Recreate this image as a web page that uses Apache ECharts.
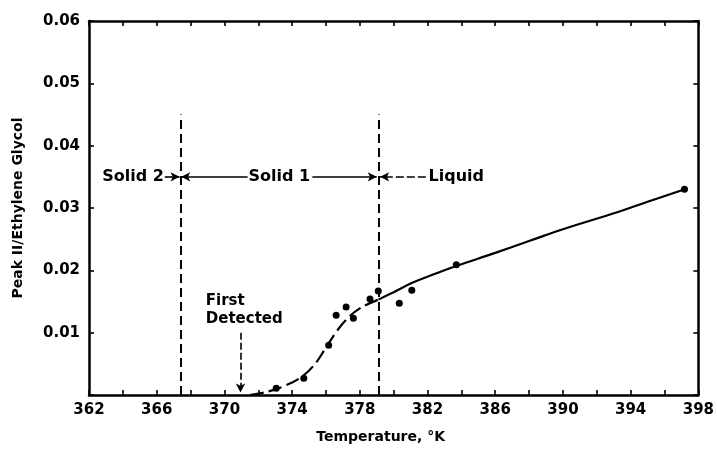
<!DOCTYPE html>
<html><head><meta charset="utf-8">
<script src="https://cdn.jsdelivr.net/npm/echarts@6/dist/echarts.min.js"></script>
<style>html,body{margin:0;padding:0;background:#fff}#c{width:717px;height:449px}</style>
</head><body><div id="c"></div>
<script>
// ---- data ----
const xTicks = [362, 366, 370, 374, 378, 382, 386, 390, 394, 398];
const yTicks = [0.01, 0.02, 0.03, 0.04, 0.05, 0.06];
const pointsX = [373.06, 374.69, 376.16, 376.6, 377.19, 377.62, 378.6, 379.09, 380.33, 381.07, 383.7, 397.18];
const pointsY = [0.0011, 0.0027, 0.0080, 0.0128, 0.0141, 0.0123, 0.0154, 0.0167, 0.0147, 0.0168, 0.0209, 0.0330];
const curveLowX = [371.5, 372.5, 373.5, 374.5, 375.3, 376.0, 376.6, 377.2, 378.0, 379.1];
const curveLowY = [0.0, 0.0005, 0.0014, 0.0028, 0.0048, 0.0076, 0.0101, 0.0121, 0.0139, 0.0153];
const curveHighX = [379.1, 380.0, 381.1, 382.5, 383.7, 386, 388, 390, 393.3, 395, 397.2];
const curveHighY = [0.0153, 0.0165, 0.0180, 0.0195, 0.0207, 0.0228, 0.0247, 0.0266, 0.0294, 0.0310, 0.0330];
const phaseBounds = [367.4, 379.1];
const phaseTop = 0.045;
const regionLabels = ['Solid 2', 'Solid 1', 'Liquid'];
const regionLabelX = [364.6, 373.25, 383.7];
const regionY = 0.035;
const arrowSegs = [[366.3, 367.35], [371.4, 367.45], [375.2, 379.0], [381.9, 379.2]];
const firstText = ['First', 'Detected'];
const firstTextX = 368.84;
const firstTextY = [0.0150, 0.0121];
const firstArrowX = 370.95;
const firstArrowY = [0.0100, 0.0004];
const xName = 'Temperature, °K';
const yName = 'Peak II/Ethylene Glycol';

const FONT = 'DejaVu Sans';
const chart = echarts.init(document.getElementById('c'));
const zip = (a, b) => a.map((v, i) => [v, b[i]]);

const markLines = [];
phaseBounds.forEach(x => markLines.push([
  {coord: [x, 0], symbol: 'none', lineStyle: {type: [9, 5], width: 2, color: '#000'}},
  {coord: [x, phaseTop], symbol: 'none'}
]));
arrowSegs.forEach((s, i) => markLines.push([
  {coord: [s[0], regionY], symbol: 'none', lineStyle: {type: i === 3 ? [8, 3] : 'solid', width: 1.6, color: '#000'}},
  {coord: [s[1], regionY], symbol: 'arrow', symbolSize: [7, 9]}
]));
markLines.push([
  {coord: [firstArrowX, firstArrowY[0]], symbol: 'none', lineStyle: {type: [7, 3], width: 1.6, color: '#000'}},
  {coord: [firstArrowX, firstArrowY[1]], symbol: 'arrow', symbolSize: [7, 9]}
]);

const textData = [];
regionLabels.forEach((t, i) => textData.push({value: [regionLabelX[i], regionY], name: t, label: {align: 'center', fontSize: 16}}));
firstText.forEach((t, i) => textData.push({value: [firstTextX, firstTextY[i]], name: t, label: {align: 'left', fontSize: 15}}));

const axisLine = {show: true, onZero: false, lineStyle: {color: '#000', width: 2.5}};
const axisTick = {show: true, inside: true, length: 5, lineStyle: {color: '#000', width: 1.6}};

chart.setOption({
  animation: false,
  backgroundColor: '#fff',
  grid: {left: 89, right: 17, top: 21, bottom: 54},
  xAxis: [{
    type: 'value', min: 362, max: 398, interval: 2,
    axisLine, axisTick, splitLine: {show: false},
    axisLabel: {
      color: '#000', fontFamily: FONT, fontWeight: 'bold', fontSize: 15, margin: 8,
      formatter: v => xTicks.includes(v) ? String(v) : ''
    },
    name: xName, nameLocation: 'middle', nameGap: 35,
    nameTextStyle: {color: '#000', fontFamily: FONT, fontWeight: 'bold', fontSize: 14, padding: [0, 26, 0, 0]}
  }, {
    type: 'value', position: 'top', min: 362, max: 398, interval: 2,
    axisLine, axisTick, splitLine: {show: false}, axisLabel: {show: false}
  }],
  yAxis: [{
    type: 'value', min: 0, max: 0.06, interval: 0.01,
    axisLine, axisTick, splitLine: {show: false},
    axisLabel: {
      color: '#000', fontFamily: FONT, fontWeight: 'bold', fontSize: 15, margin: 9,
      formatter: v => yTicks.some(t => Math.abs(t - v) < 1e-9) ? v.toFixed(2) : ''
    },
    name: yName, nameLocation: 'middle', nameGap: 64,
    nameTextStyle: {color: '#000', fontFamily: FONT, fontWeight: 'bold', fontSize: 14}
  }, {
    type: 'value', position: 'right', min: 0, max: 0.06, interval: 0.01,
    axisLine, axisTick, splitLine: {show: false}, axisLabel: {show: false}
  }],
  series: [{
    type: 'line', data: zip(curveLowX, curveLowY), smooth: 0.4, showSymbol: false,
    lineStyle: {color: '#000', width: 2.2, type: [14, 5]}, z: 3,
    markLine: {silent: true, animation: false, label: {show: false}, data: markLines}
  }, {
    type: 'line', data: zip(curveHighX, curveHighY), smooth: 0.4, showSymbol: false,
    lineStyle: {color: '#000', width: 2.2}, z: 3
  }, {
    type: 'scatter', data: zip(pointsX, pointsY), symbol: 'circle', symbolSize: 7,
    itemStyle: {color: '#000', opacity: 1}, z: 4
  }, {
    type: 'scatter', data: textData, symbolSize: 0, z: 5,
    itemStyle: {opacity: 1},
    label: {
      show: true, position: 'inside', formatter: p => p.name, color: '#000',
      fontFamily: FONT, fontWeight: 'bold', fontSize: 14, verticalAlign: 'middle',
      backgroundColor: '#fff', padding: [0, 1]
    }
  }]
});
</script></body></html>
